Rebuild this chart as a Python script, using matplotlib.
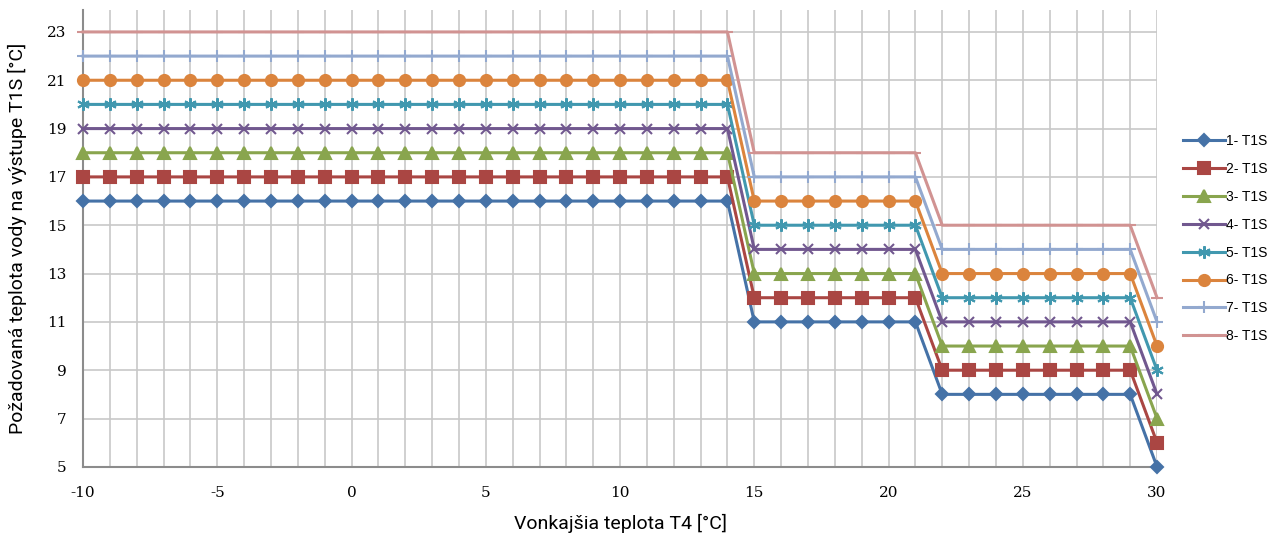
import numpy as np
import matplotlib.pyplot as plt

plt.rcParams['axes.unicode_minus'] = False

# outdoor temperature T4 [°C]
x = np.arange(-10, 31)

# step levels per series: (x<=14, 15..21, 22..29, 30)
levels = {
    '1- T1S': [16, 11, 8, 5],
    '2- T1S': [17, 12, 9, 6],
    '3- T1S': [18, 13, 10, 7],
    '4- T1S': [19, 14, 11, 8],
    '5- T1S': [20, 15, 12, 9],
    '6- T1S': [21, 16, 13, 10],
    '7- T1S': [22, 17, 14, 11],
    '8- T1S': [23, 18, 15, 12],
}
colors = ['#4572A7', '#AA4643', '#89A54E', '#71588F', '#4198AF', '#DB843D', '#93A9CF', '#D19392']
markers = ['D', 's', '^', 'x', (6, 2, 0), 'o', '+', '_']
msizes = [6, 8, 8, 7, 9, 8, 8, 8]


def series(lv):
    y = np.empty(len(x), dtype=float)
    y[x <= 14] = lv[0]
    y[(x >= 15) & (x <= 21)] = lv[1]
    y[(x >= 22) & (x <= 29)] = lv[2]
    y[x == 30] = lv[3]
    return y


fig = plt.figure(figsize=(12.68, 5.36), dpi=100)
ax = fig.add_axes([0.0655, 0.129, 0.847, 0.852])

for (name, lv), c, m, ms in zip(levels.items(), colors, markers, msizes):
    ax.plot(x, series(lv), color=c, lw=2.2, marker=m, ms=ms, mew=1.5,
            label=name, clip_on=False, zorder=3)

ax.set_xlim(-10, 30)
ax.set_ylim(5, 23.9)
ax.set_xticks(np.arange(-10, 31, 5))
ax.set_xticks(np.arange(-10, 31, 1), minor=True)
ax.set_yticks(np.arange(5, 24, 2))
ax.grid(True, which='both', axis='x', color='#c8c8c8', lw=1.2)
ax.grid(True, which='major', axis='y', color='#c8c8c8', lw=1.2)
ax.set_axisbelow(True)
for s in ['top', 'right']:
    ax.spines[s].set_visible(False)
for s in ['left', 'bottom']:
    ax.spines[s].set_color('#8c8c8c')
    ax.spines[s].set_linewidth(1.5)
ax.tick_params(which='both', length=0, labelsize=11)
ax.tick_params(axis='x', pad=14)
ax.tick_params(axis='y', pad=12)
for t in ax.get_xticklabels() + ax.get_yticklabels():
    t.set_family(['DejaVu Serif'])

lab_font = ['Liberation Sans Narrow', 'Roboto', 'DejaVu Sans']
fig.text(0.489, 0.023, 'Vonkajšia teplota T4 [°C]', fontsize=14, family=lab_font,
         ha='center', va='center')
ax.set_ylabel('Požadovaná teplota vody na výstupe T1S [°C]', fontsize=14, family=lab_font, labelpad=14)

ax.legend(loc='upper left', bbox_to_anchor=(0.933, 0.75), bbox_transform=fig.transFigure,
          frameon=False, prop={'family': ['Liberation Sans', 'DejaVu Sans'], 'size': 10},
          labelspacing=1.0, handlelength=3.0, handletextpad=0.1, borderpad=0, borderaxespad=0)

fig.savefig('out.png', dpi=100)
